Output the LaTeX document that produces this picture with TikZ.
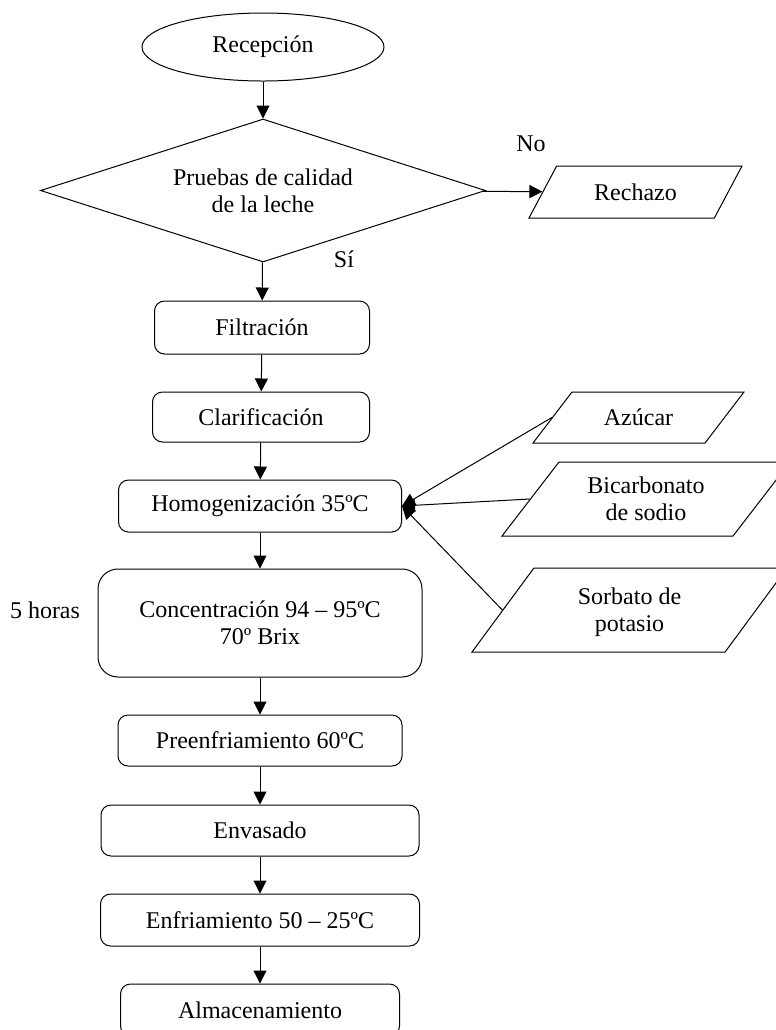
\documentclass[tikz,border=0pt]{standalone}
\usepackage{fontspec}
\setmainfont{Liberation Serif}
\usetikzlibrary{shapes.geometric,arrows.meta}

\begin{document}
\begin{tikzpicture}[
    x=0.5pt, y=-0.5pt, line width=0.5pt,
    every node/.style={font=\fontsize{12}{13.5}\selectfont},
    proc/.style={draw, rounded corners=5pt, align=center, inner sep=0pt},
    startnode/.style={draw, ellipse, inner sep=0pt, minimum width=121pt, minimum height=34pt},
    check/.style={draw, diamond, aspect=3.1, align=center, inner sep=0pt,
                  minimum width=222.5pt, minimum height=71.5pt},
    io/.style={draw, trapezium, trapezium stretches body, align=center, inner xsep=0pt, inner ysep=0pt},
    flow/.style={-{Triangle[length=6.5pt,width=6.5pt]}}
]
\clip (0,0) rectangle (776,1030);
\node[startnode] (rec) at (263,47) {Recepción};
\node[check] (prueba) at (263,190.5) {Pruebas de calidad\\de la leche};
\node[io, trapezium left angle=62, trapezium right angle=118,
      minimum width=106.5pt, text height=17pt, text depth=9pt] (rech) at (635.5,192) {Rechazo};
\node (no) at (531,144) {No};
\node (si) at (344,259) {Sí};
\node[proc, minimum width=107.5pt, minimum height=26.5pt] (filt) at (262,327.5) {Filtración};
\node[proc, minimum width=108.5pt, minimum height=25pt] (clar) at (261,417) {Clarificación};
\node[proc, minimum width=141.5pt, minimum height=26pt] (hom) at (260,506) {Homogenización 35ºC};
\node[proc, rounded corners=10pt, minimum width=162pt, minimum height=54pt] (conc) at (260,623)
     {Concentración 94 – 95ºC\\70º Brix};
\node (horas) at (45,610) {5 horas};
\node[proc, minimum width=142pt, minimum height=25.5pt] (pre) at (260,740.5) {Preenfriamiento 60ºC};
\node[proc, minimum width=159pt, minimum height=25.5pt] (env) at (260,830.5) {Envasado};
\node[proc, minimum width=159.5pt, minimum height=26pt] (enf) at (260,920) {Enfriamiento 50 – 25ºC};
\node[proc, minimum width=139.5pt, minimum height=26pt] (alm) at (260,1010) {Almacenamiento};
\node[io, trapezium left angle=52.6, trapezium right angle=127.4,
      minimum width=105.5pt, text height=16.75pt, text depth=8.75pt] (azu) at (638.5,417.5) {Azúcar};
\node[io, trapezium left angle=52.4, trapezium right angle=127.6,
      minimum width=144pt, text height=29.25pt, text depth=7.75pt] (bic) at (646,499) {Bicarbonato\\de sodio};
\node[io, trapezium left angle=53.6, trapezium right angle=126.4,
      minimum width=157.5pt, text height=31.75pt, text depth=10.25pt] (sor) at (629.5,610) {Sorbato de\\potasio};
\draw[flow] (rec) -- (prueba);
\draw[flow] (prueba) -- (rech);
\draw[flow] (prueba) -- (filt);
\draw[flow] (filt) -- (clar);
\draw[flow] (clar) -- (hom);
\draw[flow] (hom) -- (conc);
\draw[flow] (conc) -- (pre);
\draw[flow] (pre) -- (env);
\draw[flow] (env) -- (enf);
\draw[flow] (enf) -- (alm);
\draw[flow] (azu.left side) -- (hom.east);
\draw[flow] (bic.left side) -- (hom.east);
\draw[flow] (sor.left side) -- (hom.east);
\end{tikzpicture}
\end{document}
